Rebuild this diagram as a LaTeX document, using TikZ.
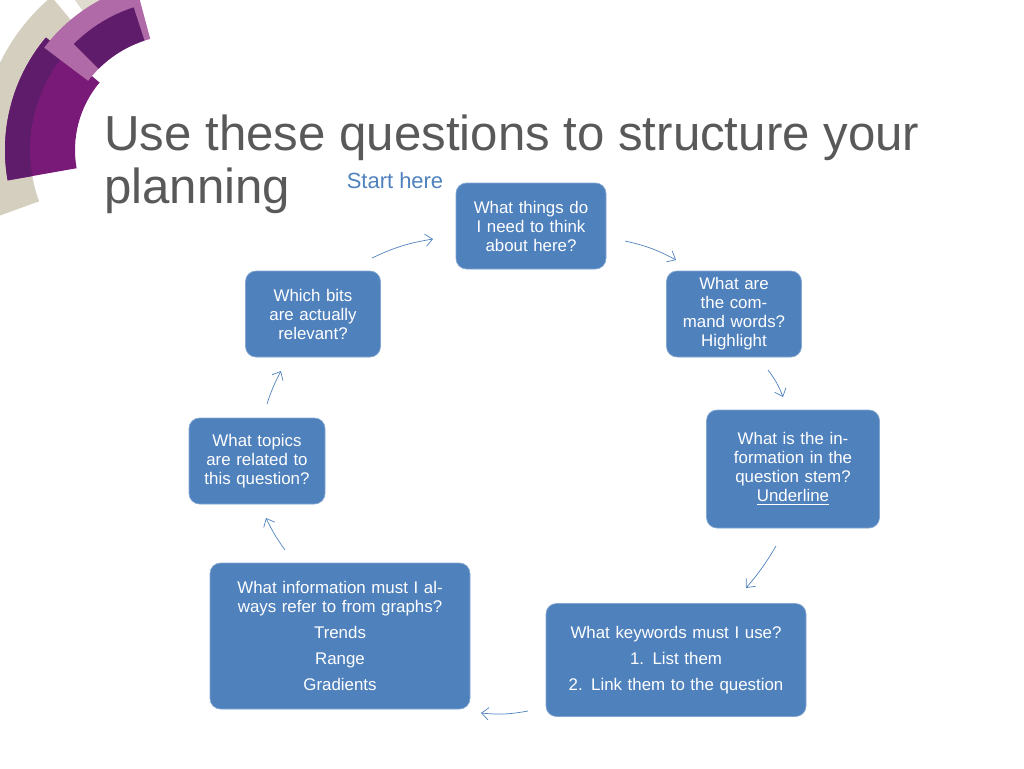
\documentclass[tikz,border=0pt]{standalone}
\usepackage{fontspec}
\setmainfont{Liberation Sans}
\usetikzlibrary{arrows.meta}
\definecolor{boxblue}{HTML}{4F81BD}
\definecolor{titlegray}{HTML}{595959}
\definecolor{deeppurple}{HTML}{7A1A78}
\definecolor{darkpurple}{HTML}{5E1C6B}
\definecolor{pinkpurple}{HTML}{B06AA8}
\definecolor{beige}{HTML}{C9C3AE}
\newcommand{\sector}[5]{%
  \fill[#1] (180,150) ++(#2:#5) arc (#2:#3:#5) -- ($(180,150)+(#3:#4)$) arc (#3:#2:#4) -- cycle;}
\usetikzlibrary{calc}
\tikzset{
  qbox/.style={draw=boxblue!70!white, fill=boxblue, rounded corners=6pt, text=white,
    align=center, font=\fontsize{9.6}{10.8}\selectfont, inner sep=2pt},
  flow/.style={-{Straight Barb[length=4pt,width=7pt]}, boxblue, thin}
}
\begin{document}
\begin{tikzpicture}[x=0.02cm, y=-0.02cm]
    \useasboundingbox (0,0) rectangle (1024,768);

    % Decoration in the top left corner
    \sector{beige!80}{-130}{-200}{150}{200}
    \sector{beige!60}{-100}{-125}{160}{205}
    \sector{deeppurple}{-140}{-190}{105}{175}
    \sector{darkpurple}{-140}{-190}{150}{175}
    \sector{pinkpurple}{-105}{-143}{115}{170}
    \sector{darkpurple}{-108}{-135}{115}{150}

    % Title
    \node[anchor=base west, text=titlegray, font=\fontsize{28}{30}\selectfont, inner sep=0pt]
        (title1) at (104,150) {Use these questions to structure your};
    \node[anchor=base west, text=titlegray, font=\fontsize{28}{30}\selectfont, inner sep=0pt]
        (title2) at (104,203) {planning};
    \node[text=boxblue, font=\fontsize{12.5}{14}\selectfont] (start) at (395,181) {Start here};

    % Question boxes
    \node[qbox, minimum width=150*0.02cm, minimum height=86*0.02cm, text width=140*0.02cm]
        (think) at (531,226) {What things do I need to think about here?};
    \node[qbox, minimum width=135*0.02cm, minimum height=86*0.02cm, text width=125*0.02cm]
        (command) at (734,314) {What are the command words? Highlight};
    \node[qbox, minimum width=173*0.02cm, minimum height=118*0.02cm, text width=163*0.02cm]
        (stem) at (793,469) {What is the information in the question stem?\\\underline{Underline}};
    \node[qbox, minimum width=260*0.02cm, minimum height=113*0.02cm, text width=250*0.02cm,
        font=\fontsize{9.6}{15}\selectfont]
        (keywords) at (676,660) {What keywords must I use?\\1. List them\\2. Link them to the question};
    \node[qbox, minimum width=260*0.02cm, minimum height=146*0.02cm, text width=250*0.02cm]
        (graphs) at (340,636) {What information must I always refer to from graphs?\\[4pt]
        Trends\\[4pt] Range\\[4pt] Gradients};
    \node[qbox, minimum width=136*0.02cm, minimum height=86*0.02cm, text width=126*0.02cm]
        (topics) at (257,461) {What topics are related to this question?};
    \node[qbox, minimum width=135*0.02cm, minimum height=86*0.02cm, text width=125*0.02cm]
        (bits) at (313,314) {Which bits are actually relevant?};

    % Arrow end points
    \coordinate (a1) at (372,258); \coordinate (a2) at (433,239);
    \coordinate (b1) at (625,241); \coordinate (b2) at (676,260);
    \coordinate (c1) at (768,370); \coordinate (c2) at (783,397);
    \coordinate (d1) at (776,546); \coordinate (d2) at (746,588);
    \coordinate (e1) at (528,711); \coordinate (e2) at (481,713);
    \coordinate (f1) at (285,550); \coordinate (f2) at (266,518);
    \coordinate (g1) at (267,404); \coordinate (g2) at (281,371);

    % Arrows
    \draw[flow] (a1) to[bend left=8] (a2);
    \draw[flow] (b1) to[bend left=8] (b2);
    \draw[flow] (c1) to[bend left=8] (c2);
    \draw[flow] (d1) to[bend left=5] (d2);
    \draw[flow] (e1) to[bend left=8] (e2);
    \draw[flow] (f1) to[bend left=5] (f2);
    \draw[flow] (g1) to[bend left=5] (g2);
\end{tikzpicture}
\end{document}
